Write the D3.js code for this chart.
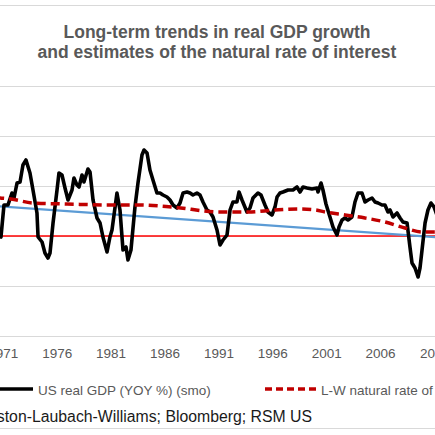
<!DOCTYPE html>
<html>
<head>
<meta charset="utf-8">
<script src="https://cdn.jsdelivr.net/npm/d3@7"></script>
<style>
  body { margin: 0; background: #fff; }
  svg { display: block; font-family: "Liberation Sans", Arial, sans-serif; }
</style>
</head>
<body>
<div id="chart"></div>
<script>
// chart is a crop of a wider Excel chart, so some things run off the edges
var svgWidth = 435;
var svgHeight = 435;

// US real GDP, year-over-year %, smoothed
var gdpYears = [1970.28, 1970.83, 1971.11, 1971.48, 1971.85, 1972.04, 1972.32, 1972.6, 1972.87, 1973.15,
  1973.52, 1973.8, 1974.17, 1974.27, 1974.64, 1974.91, 1975.19, 1975.38, 1975.66, 1976.03,
  1976.21, 1976.49, 1976.77, 1977.05, 1977.42, 1977.6, 1977.88, 1978.07, 1978.35, 1978.53,
  1978.9, 1979.09, 1979.37, 1979.74, 1980.02, 1980.29, 1980.67, 1980.94, 1981.13, 1981.59,
  1981.87, 1982.15, 1982.43, 1982.61, 1982.89, 1983.26, 1983.54, 1983.91, 1984.1, 1984.38,
  1984.65, 1984.93, 1985.3, 1985.58, 1985.86, 1986.23, 1986.51, 1986.79, 1987.16, 1987.44,
  1987.72, 1988.09, 1988.37, 1988.64, 1989.01, 1989.29, 1989.57, 1989.94, 1990.22, 1990.5,
  1990.87, 1991.15, 1991.43, 1991.8, 1992.08, 1992.35, 1992.72, 1992.91, 1993.19, 1993.65,
  1993.93, 1994.21, 1994.67, 1994.95, 1995.32, 1995.6, 1995.97, 1996.25, 1996.44, 1996.71,
  1996.99, 1997.46, 1997.92, 1998.29, 1998.57, 1998.85, 1999.22, 1999.68, 2000.15, 2000.24,
  2000.52, 2000.7, 2000.98, 2001.35, 2001.63, 2002.0, 2002.19, 2002.47, 2002.74, 2003.02,
  2003.39, 2003.67, 2003.95, 2004.32, 2004.6, 2004.88, 2005.25, 2005.53, 2005.81, 2006.18,
  2006.45, 2006.73, 2006.92, 2007.2, 2007.57, 2007.85, 2008.12, 2008.5, 2008.77, 2008.96,
  2009.24, 2009.52, 2009.7, 2009.89, 2010.17, 2010.44, 2010.72, 2011.0, 2011.3, 2011.6];
var gdpValues = [0.4, -0.1, 3.1, 3.1, 4.3, 3.8, 5.3, 5.4, 7.1, 7.6,
  6.3, 4.6, 2.3, -0.1, -0.6, -1.7, -2.2, -1.7, 1.3, 4.6,
  6.3, 6.1, 4.8, 3.6, 4.6, 5.8, 5.1, 4.9, 6.1, 5.4,
  6.7, 6.4, 3.6, 1.8, 1.3, -0.1, -1.6, -0.1, 0.6, 4.3,
  2.6, -1.4, -1.1, -2.4, -1.4, 2.9, 5.3, 8.1, 8.6, 8.3,
  6.6, 5.6, 4.3, 4.3, 4.1, 3.9, 3.6, 3.1, 2.8, 3.3,
  4.3, 4.4, 4.3, 4.1, 4.3, 4.1, 3.4, 2.6, 2.4, 1.9,
  0.6, -0.9, -0.4, 0.1, 2.6, 3.4, 3.4, 4.4, 3.6, 2.4,
  2.8, 3.8, 4.3, 4.1, 3.1, 2.4, 2.1, 2.9, 3.9, 4.3,
  4.4, 4.6, 4.6, 4.9, 4.4, 4.9, 4.8, 4.7, 4.8, 4.4,
  5.3, 4.6, 3.2, 1.9, 0.9, 0.1, 0.9, 1.6, 1.8, 1.6,
  1.9, 3.4, 4.3, 4.3, 3.4, 3.6, 3.8, 3.4, 3.3, 3.1,
  3.1, 2.4, 2.6, 1.9, 2.3, 1.8, 1.4, 1.3, -1.1, -2.7,
  -3.2, -4.1, -3.2, -1.4, 1.3, 2.6, 3.3, 2.9, 2.0, 1.6];

// Laubach-Williams natural rate of interest
var lwYears = [1969, 1970.74, 1971.76, 1973.8, 1976.96, 1980.94, 1983.54, 1986.7, 1991.15, 1993.75,
  1996.25, 1998.4, 2000.0, 2000.9, 2002.74, 2004.6, 2006.45, 2008.3, 2009.9, 2011.1, 2012];
var lwValues = [4.0, 3.8, 3.7, 3.3, 3.2, 3.1, 3.1, 2.9, 2.4, 2.4,
  2.6, 2.7, 2.6, 2.4, 2.1, 1.8, 1.4, 0.8, 0.4, 0.4, 0.4];

// linear trend of GDP growth
var trendYears = [1965, 2015];
var trendValues = [3.4, -0.4];

var yTicks = [-10, -5, 0, 5, 10, 15];
var xTickYears = [1971, 1976, 1981, 1986, 1991, 1996, 2001, 2006, 2011];

var titleLines = ["Long-term trends in real GDP growth", "and estimates of the natural rate of interest"];
var legendLabels = ["US real GDP (YOY %) (smo)", "L-W natural rate of interest"];
var sourceText = "Source: Holston-Laubach-Williams; Bloomberg; RSM US";

var svg = d3.select("#chart")
  .append("svg")
  .attr("width", svgWidth)
  .attr("height", svgHeight);

var xScale = d3.scaleLinear()
  .domain([1971, 2011])
  .range([2.8, 434]);

var yScale = d3.scaleLinear()
  .domain([-10, 15])
  .range([336, 86]);

// chart border (top and bottom visible)
svg.append("line").attr("x1", -5).attr("x2", svgWidth + 5).attr("y1", 5.5).attr("y2", 5.5)
  .attr("stroke", "#d9d9d9").attr("stroke-width", 1.2);
svg.append("line").attr("x1", -5).attr("x2", svgWidth + 5).attr("y1", 428.5).attr("y2", 428.5)
  .attr("stroke", "#d9d9d9").attr("stroke-width", 1.2);

// title
svg.append("g")
  .selectAll("text")
  .data(titleLines)
  .enter()
  .append("text")
  .attr("x", 217)
  .attr("y", (d, i) => 37.5 + i * 20)
  .attr("text-anchor", "middle")
  .attr("font-size", "17.5px")
  .attr("font-weight", "bold")
  .attr("fill", "#595959")
  .text(d => d);

// gridlines
var yAxis = d3.axisLeft(yScale)
  .tickValues(yTicks)
  .tickSize(-svgWidth - 20)
  .tickFormat("");
svg.append("g")
  .attr("transform", "translate(-10,0)")
  .call(yAxis)
  .call(g => g.select(".domain").remove())
  .call(g => g.selectAll(".tick line").attr("stroke", "#d9d9d9").attr("stroke-width", 1.2));

// x labels
var xAxis = d3.axisBottom(xScale)
  .tickValues(xTickYears)
  .tickSize(0)
  .tickPadding(12)
  .tickFormat(d3.format("d"));
svg.append("g")
  .attr("transform", "translate(0,336)")
  .call(xAxis)
  .call(g => g.select(".domain").remove())
  .call(g => g.selectAll("text").attr("font-size", "13.5px").attr("fill", "#595959")
    .attr("font-family", "Liberation Sans, Arial, sans-serif"));

var createLine = d3.line()
  .x(d => xScale(d[0]))
  .y(d => yScale(d[1]));

// zero line
svg.append("line")
  .attr("x1", -5).attr("x2", svgWidth + 5)
  .attr("y1", yScale(0)).attr("y2", yScale(0))
  .attr("stroke", "#ff0000")
  .attr("stroke-width", 1.5);

// trend line
svg.append("path")
  .attr("fill", "none")
  .attr("stroke", "#5b9bd5")
  .attr("stroke-width", 2.2)
  .attr("d", createLine(d3.zip(trendYears, trendValues)));

// GDP
svg.append("path")
  .attr("fill", "none")
  .attr("stroke", "#000")
  .attr("stroke-width", 3.6)
  .attr("stroke-linejoin", "round")
  .attr("d", createLine(d3.zip(gdpYears, gdpValues)));

// natural rate
svg.append("path")
  .attr("fill", "none")
  .attr("stroke", "#c00000")
  .attr("stroke-width", 3.5)
  .attr("stroke-dasharray", "9,5")
  .attr("d", d3.line().curve(d3.curveMonotoneX)
    .x(d => xScale(d[0])).y(d => yScale(d[1]))(d3.zip(lwYears, lwValues)));

// legend
var legend = svg.append("g");
legend.append("line")
  .attr("x1", -20).attr("x2", 33).attr("y1", 389).attr("y2", 389)
  .attr("stroke", "#000").attr("stroke-width", 3.5);
legend.append("text")
  .attr("x", 38).attr("y", 394.5)
  .attr("font-size", "13.5px").attr("fill", "#595959")
  .text(legendLabels[0]);
legend.append("line")
  .attr("x1", 265).attr("x2", 316).attr("y1", 389).attr("y2", 389)
  .attr("stroke", "#c00000").attr("stroke-width", 3.5)
  .attr("stroke-dasharray", "7,4");
legend.append("text")
  .attr("x", 321).attr("y", 394.5)
  .attr("font-size", "13.5px").attr("fill", "#595959")
  .text(legendLabels[1]);

// source line
svg.append("text")
  .attr("x", 312).attr("y", 421.5)
  .attr("text-anchor", "end")
  .attr("font-size", "15.8px")
  .attr("fill", "#1a1a1a")
  .text(sourceText);
</script>
</body>
</html>
